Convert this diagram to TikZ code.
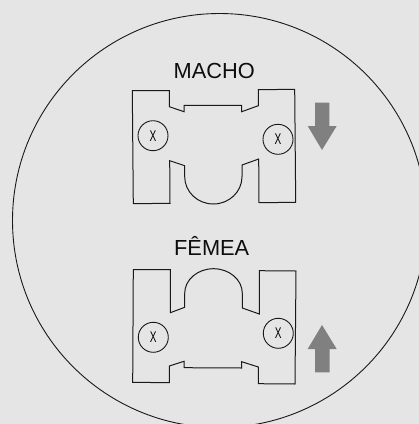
\documentclass[tikz,border=0pt]{standalone}
\usepackage{fontspec}
\setmainfont{Liberation Sans}
\definecolor{bggray}{HTML}{E5E5E5}
\definecolor{arrowgray}{HTML}{808080}
\tikzset{
  piece/.style={draw=black!90, line width=1pt, line join=miter},
  bolt/.style={circle, draw=black!90, line width=0.9pt, minimum size=30pt, inner sep=0pt, font=\fontsize{15.5}{16}\selectfont},
  title/.style={inner sep=0pt, font=\fontsize{21.8}{22}\selectfont, anchor=base, text=black!95},
  move/.style={fill=arrowgray, draw=none}
}
\begin{document}
\begin{tikzpicture}[x=1pt,y=-1pt]
\fill[bggray] (0,0) rectangle (419,424);
\useasboundingbox (0,0) rectangle (419,424);
\clip (0,0) rectangle (419,424);
\draw[black!90, line width=0.9pt] (219.5,220.5) circle [radius=207];

\node[title] (macho) at (214.3,78){MACHO};
\draw[piece] (132.3,90.7) -- (169.3,90.7) -- (169.3,106.7) -- (184,111.7) -- (184,105.4) -- (241.7,105.4) -- (241.7,111.7) -- (258.3,105.7) -- (258.3,89.7) -- (294.7,89.3) -- (295.7,202.3) -- (259,202.7) -- (258.7,159) -- (242,165) -- (242,176.7) arc [start angle=0, end angle=180, x radius=28.65, y radius=27.3] -- (184.7,165.7) -- (169.7,160.7) -- (170,203.3) -- (133.3,203.7) -- cycle;
\node[bolt] (macholeft) at (153,135.7){\scalebox{0.65}[1]{X}};
\node[bolt] (machoright) at (278,139.3){\scalebox{0.65}[1]{X}};
\fill[move] (315,102.7) -- (329.3,102.7) -- (329.3,126) -- (336.7,126) -- (322,150) -- (307.7,126) -- (315,126) -- cycle;

\node[title] (femea) at (211.7,255){FÊMEA};
\draw[piece] (133.3,269.7) -- (170.3,269.7) -- (170.3,312.7) -- (184.7,307.3) -- (184.7,293.3) arc [start angle=180, end angle=360, x radius=28.8, y radius=24.6] -- (242.3,308) -- (259.3,314) -- (259.3,270.7) -- (296,271) -- (295,384) -- (258.3,383.7) -- (258.3,367) -- (241.7,361.7) -- (241.7,368) -- (184,367.7) -- (184,361.3) -- (169.3,366) -- (169.3,382.7) -- (132.7,382.3) -- cycle;
\node[bolt] (femealeft) at (153.3,337.3){\scalebox{0.65}[1]{X}};
\node[bolt] (femearight) at (278.3,333.3){\scalebox{0.65}[1]{X}};
\fill[move] (315,372.3) -- (329.7,372.3) -- (329.7,349) -- (336.7,349) -- (322,325) -- (307.7,349) -- (315,349) -- cycle;

\end{tikzpicture}
\end{document}
